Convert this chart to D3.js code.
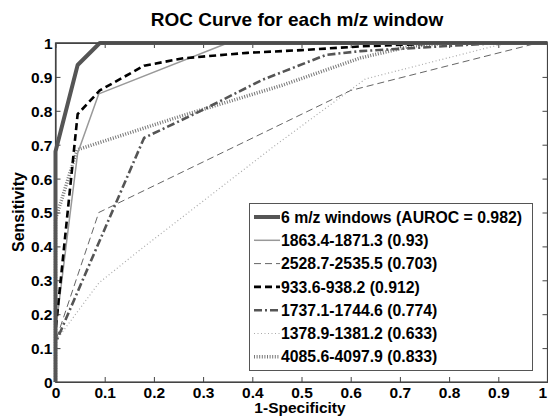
<!DOCTYPE html>
<html><head><meta charset="utf-8">
<script src="https://cdn.jsdelivr.net/npm/d3@7"></script>
<style>body{margin:0;background:#fff}svg{display:block}text{font-family:"Liberation Sans",Arial,sans-serif;font-weight:bold;fill:#000}</style>
</head><body>
<script>
// ---- data ----
const seriesNames = ["6 m/z windows (AUROC = 0.982)","1863.4-1871.3 (0.93)","2528.7-2535.5 (0.703)","933.6-938.2 (0.912)","1737.1-1744.6 (0.774)","1378.9-1381.2 (0.633)","4085.6-4097.9 (0.833)"];
const fprAll = [0, 0, 0.045, 0.09, 1];
const tprAll = [0, 0.68, 0.935, 1, 1];
const fpr1863 = [0, 0, 0.045, 0.088, 0.35, 1];
const tpr1863 = [0, 0.15, 0.675, 0.85, 1, 1];
const fpr2528 = [0, 0, 0.088, 0.6, 0.98, 1];
const tpr2528 = [0, 0.12, 0.5, 0.86, 1, 1];
const fpr933 = [0, 0, 0.045, 0.09, 0.18, 0.26, 0.39, 0.5, 0.62, 0.8, 1];
const tpr933 = [0, 0.15, 0.79, 0.86, 0.933, 0.955, 0.971, 0.979, 0.99, 1, 1];
const fpr1737 = [0, 0, 0.18, 0.29, 0.42, 0.55, 0.62, 0.9, 1];
const tpr1737 = [0, 0.115, 0.72, 0.796, 0.891, 0.965, 0.976, 1, 1];
const fpr1378 = [0, 0, 0.088, 0.172, 0.442, 0.6, 0.63, 0.9, 0.93, 1];
const tpr1378 = [0, 0.12, 0.292, 0.39, 0.693, 0.862, 0.894, 0.994, 1, 1];
const fpr4085 = [0, 0, 0.044, 0.25, 0.46, 0.62, 0.72, 0.8, 1];
const tpr4085 = [0, 0.48, 0.685, 0.782, 0.875, 0.956, 0.99, 1, 1];
const xTicks = [0,0.1,0.2,0.3,0.4,0.5,0.6,0.7,0.8,0.9,1];
const yTicks = [0,0.1,0.2,0.3,0.4,0.5,0.6,0.7,0.8,0.9,1];
const titleText = "ROC Curve for each m/z window";
const xLabel = "1-Specificity", yLabel = "Sensitivity";

const fprs=[fprAll,fpr1863,fpr2528,fpr933,fpr1737,fpr1378,fpr4085];
const tprs=[tprAll,tpr1863,tpr2528,tpr933,tpr1737,tpr1378,tpr4085];
const styles=[
 {c:"#555",w:4,d:null},
 {c:"#999",w:1.5,d:null},
 {c:"#666",w:1,d:"7,4"},
 {c:"#000",w:2.6,d:"7,4"},
 {c:"#555",w:2.6,d:"8,3,2,3"},
 {c:"#aaa",w:1.2,d:"1,2.5"},
 {c:"#777",w:3.5,d:"1,1.6"}
];

const W=548,H=416;
const svg=d3.select("body").append("svg").attr("width",W).attr("height",H);
const L=55.5,R=547.5,T=43,B=382;
const x=d3.scaleLinear().domain([0,1]).range([L,R]);
const y=d3.scaleLinear().domain([0,1]).range([B,T]);

svg.append("rect").attr("x",L).attr("y",T).attr("width",R-L).attr("height",B-T).attr("fill","#fff").attr("stroke","#444").attr("stroke-width",1.2);

const fmt=d=>d===0?"0":d===1?"1":d3.format(".1f")(d);
const gx=svg.append("g").attr("transform",`translate(0,${B})`).call(d3.axisBottom(x).tickValues(xTicks).tickFormat(fmt).tickSizeInner(-5).tickSizeOuter(0).tickPadding(4));
const gy=svg.append("g").attr("transform",`translate(${L},0)`).call(d3.axisLeft(y).tickValues(yTicks).tickFormat(fmt).tickSizeInner(-5).tickSizeOuter(0).tickPadding(3));
const gx2=svg.append("g").attr("transform",`translate(0,${T})`).call(d3.axisTop(x).tickValues(xTicks).tickFormat("").tickSizeInner(-5).tickSizeOuter(0));
const gy2=svg.append("g").attr("transform",`translate(${R},0)`).call(d3.axisRight(y).tickValues(yTicks).tickFormat("").tickSizeInner(-5).tickSizeOuter(0));
[gx,gy,gx2,gy2].forEach(g=>{g.select(".domain").attr("stroke","#444").attr("stroke-width",1.2);g.selectAll(".tick line").attr("stroke","#444");g.selectAll("text").attr("font-size",15.5).attr("font-family","Liberation Sans, Arial, sans-serif").attr("font-weight","bold").attr("fill","#000");});
gx.selectAll("text").attr("dy","0.75em");
gx.selectAll(".tick").filter(d=>d===1).select("text").attr("text-anchor","end").attr("dx","-1");
gy.selectAll("text").attr("dy","0.35em");

const line=d3.line().x(d=>x(d[0])).y(d=>y(d[1]));
const order=[5,2,6,4,1,3,0];
order.forEach(i=>{
  const pts=fprs[i].map((f,k)=>[f,tprs[i][k]]);
  const p=svg.append("path").attr("d",line(pts)).attr("fill","none").attr("stroke",styles[i].c).attr("stroke-width",styles[i].w).attr("stroke-linejoin","round");
  if(styles[i].d) p.attr("stroke-dasharray",styles[i].d);
});
svg.append("line").attr("x1",L).attr("x2",R).attr("y1",T).attr("y2",T).attr("stroke","#444").attr("stroke-width",1.2);

svg.append("text").attr("x",297).attr("y",26).attr("text-anchor","middle").attr("font-size",19).text(titleText);
svg.append("text").attr("x",300).attr("y",413).attr("text-anchor","middle").attr("font-size",15.5).text(xLabel);
svg.append("text").attr("transform","translate(24,212) rotate(-90)").attr("text-anchor","middle").attr("font-size",16).text(yLabel);

const lg=svg.append("g");
lg.append("rect").attr("x",249.5).attr("y",203.5).attr("width",283).attr("height",167).attr("fill","#fff").attr("stroke","#555").attr("stroke-width",1);
seriesNames.forEach((n,i)=>{
  const yy=217+i*23.3;
  const l=lg.append("line").attr("x1",254).attr("x2",280).attr("y1",yy).attr("y2",yy).attr("stroke",styles[i].c).attr("stroke-width",styles[i].w);
  if(styles[i].d) l.attr("stroke-dasharray",styles[i].d);
  lg.append("text").attr("x",281).attr("y",yy).attr("dy","0.36em").attr("font-size",15.8).text(n);
});
</script>
</body></html>
